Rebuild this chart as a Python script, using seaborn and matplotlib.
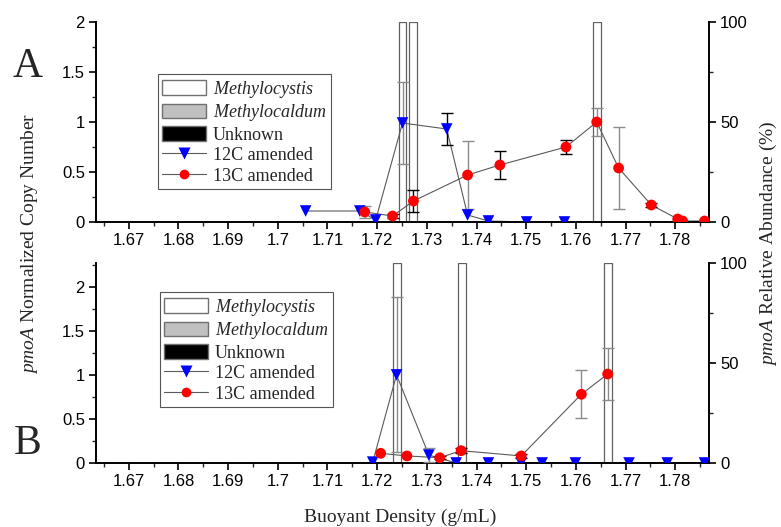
import numpy as np
import pandas as pd
import matplotlib
matplotlib.use("Agg")
import matplotlib.pyplot as plt
import seaborn as sns
from matplotlib.patches import Patch
from matplotlib.lines import Line2D
from matplotlib.ticker import MultipleLocator, FuncFormatter

# ---------------- data ----------------
# Panel A
a_bar_x = [1.7251, 1.7272, 1.7642]
a_bar_cystis = [100, 100, 100]
a12_x = [1.7056, 1.7165, 1.7197, 1.7251, 1.7340, 1.7382, 1.7424, 1.7501, 1.7577]
a12_y = [0.11, 0.11, 0.02, 0.99, 0.93, 0.07, 0.01, 0.0, 0.0]
a12_err = [0, 0, 0, 0.41, 0.16, 0, 0, 0, 0]
a13_x = [1.7175, 1.7231, 1.7273, 1.7382, 1.7447, 1.7580, 1.7642, 1.7686, 1.7752, 1.7805, 1.7815, 1.7859]
a13_y = [0.10, 0.06, 0.21, 0.47, 0.57, 0.75, 1.00, 0.54, 0.17, 0.03, 0.01, 0.01]
a13_err = [0.06, 0.02, 0.11, 0.34, 0.14, 0.07, 0.14, 0.41, 0.02, 0, 0, 0]

# Panel B
b_bar_x = [1.7239, 1.7370, 1.7664]
b_bar_cystis = [100, 100, 100]
b12_x = [1.7191, 1.7239, 1.7304, 1.7359, 1.7424, 1.7490, 1.7532, 1.7599, 1.7707, 1.7784, 1.7859]
b12_y = [0.01, 1.00, 0.09, 0.0, 0.0, 0.0, 0.0, 0.0, 0.0, 0.0, 0.0]
b12_err = [0, 0.88, 0.08, 0, 0, 0, 0, 0, 0, 0, 0]
b13_x = [1.7207, 1.7260, 1.7326, 1.7369, 1.7490, 1.7611, 1.7664]
b13_y = [0.11, 0.08, 0.06, 0.14, 0.08, 0.78, 1.01]
b13_err = [0, 0, 0.02, 0.03, 0.02, 0.27, 0.30]

legend_labels = [r"$\it{Methylocystis}$", r"$\it{Methylocaldum}$", "Unknown",
                 "12C amended", "13C amended"]
x_label = "Buoyant Density (g/mL)"
left_label = r"$\it{pmoA}$ Normalized Copy Number"
right_label = r"$\it{pmoA}$ Relative Abundance (%)"

# ---------------- style ----------------
sns.set_style("ticks")
plt.rcParams["font.family"] = ["Liberation Sans", "DejaVu Sans"]
plt.rcParams["mathtext.fontset"] = "custom"
plt.rcParams["mathtext.rm"] = "Liberation Serif"
plt.rcParams["mathtext.it"] = "Liberation Serif:italic"
SERIF = ["Liberation Serif", "DejaVu Serif"]

fig = plt.figure(figsize=(7.81, 5.27), dpi=100)
W, H = 781, 527
def axrect(x0, x1, y0, y1):
    return [x0 / W, 1 - y1 / H, (x1 - x0) / W, (y1 - y0) / H]

LINE_C = "#5a5a5a"
BAR_EC = "#606060"
GREY_E = "#8c8c8c"

def panel(rect, bar_x, bar_y, x12, y12, e12, x13, y13, e13, ytop,
          grey12, grey13, leg_anchor):
    ax = fig.add_axes(rect)
    ax2 = ax.twinx()
    ax.set_zorder(ax2.get_zorder() + 1)
    ax.patch.set_visible(False)

    ax2.bar(bar_x, bar_y, width=0.0016, facecolor="white", edgecolor=BAR_EC,
            linewidth=0.9, zorder=1)
    ax2.set_ylim(0, 100)

    d12 = pd.DataFrame({"x": x12, "y": y12})
    d13 = pd.DataFrame({"x": x13, "y": y13})
    for d in (d12, d13):
        sns.lineplot(data=d, x="x", y="y", ax=ax, color=LINE_C, linewidth=0.8,
                     sort=False, estimator=None, zorder=2)
    for i, (xx, yy, ee) in enumerate(zip(x12, y12, e12)):
        if ee > 0:
            ax.errorbar(xx, yy, yerr=ee, fmt="none", capsize=4, elinewidth=1,
                        capthick=1, ecolor=GREY_E if i in grey12 else "black", zorder=3)
    for i, (xx, yy, ee) in enumerate(zip(x13, y13, e13)):
        if ee > 0:
            ax.errorbar(xx, yy, yerr=ee, fmt="none", capsize=4, elinewidth=1,
                        capthick=1, ecolor=GREY_E if i in grey13 else "black", zorder=3)
    sns.scatterplot(data=d12, x="x", y="y", ax=ax, marker="v", color="#0000ff",
                    s=70, edgecolor="none", zorder=4)
    sns.scatterplot(data=d13, x="x", y="y", ax=ax, marker="o", color="#ff0000",
                    s=60, edgecolor="none", zorder=4)

    ax.set_xlim(1.6634, 1.7868)
    ax.set_ylim(0, ytop)
    ax.set_xlabel("")
    ax.set_ylabel("")
    ax.xaxis.set_major_locator(MultipleLocator(0.01))
    ax.xaxis.set_minor_locator(MultipleLocator(0.005))
    ax.yaxis.set_major_locator(MultipleLocator(0.5))
    ax.yaxis.set_minor_locator(MultipleLocator(0.25))
    ax2.yaxis.set_major_locator(MultipleLocator(50))
    ax2.yaxis.set_minor_locator(MultipleLocator(25))
    fmt = FuncFormatter(lambda v, p: ("%.2f" % v).rstrip("0").rstrip(".") if v != 0 else "0")
    ax.xaxis.set_major_formatter(fmt)
    ax.yaxis.set_major_formatter(fmt)
    for a in (ax, ax2):
        a.tick_params(which="major", direction="out", length=5, width=1.2,
                      labelsize=12, colors="black", pad=3)
        a.tick_params(which="minor", direction="out", length=3, width=1.0)
        for s in a.spines.values():
            s.set_linewidth(1.4)
            s.set_color("black")
        a.spines["top"].set_visible(False)
    ax.spines["right"].set_visible(False)
    ax2.spines["left"].set_visible(False)
    ax2.spines["bottom"].set_visible(False)
    ax2.set_ylabel("")

    handles = [
        Patch(facecolor="white", edgecolor="#707070", linewidth=1),
        Patch(facecolor="#c0c0c0", edgecolor="#707070", linewidth=1),
        Patch(facecolor="black", edgecolor="#707070", linewidth=1),
        Line2D([], [], color=LINE_C, lw=0.8, marker="v", markersize=8,
               markerfacecolor="#0000ff", markeredgecolor="none"),
        Line2D([], [], color=LINE_C, lw=0.8, marker="o", markersize=7,
               markerfacecolor="#ff0000", markeredgecolor="none"),
    ]
    leg = ax.legend(handles, legend_labels, loc="upper left", bbox_to_anchor=leg_anchor,
                    frameon=True, fancybox=False, framealpha=1, edgecolor="#555555",
                    prop={"family": SERIF, "size": 13}, handlelength=2.4,
                    handleheight=0.9, handletextpad=0.4, labelspacing=0.15,
                    borderpad=0.25, borderaxespad=0)
    leg.get_frame().set_linewidth(0.8)
    return ax, ax2

panel(axrect(96, 709, 22, 222), a_bar_x, a_bar_cystis, a12_x, a12_y, a12_err,
      a13_x, a13_y, a13_err, 2.0, grey12={3}, grey13={0, 3, 6, 7},
      leg_anchor=(0.101, 0.74))
panel(axrect(96, 709, 263, 463), b_bar_x, b_bar_cystis, b12_x, b12_y, b12_err,
      b13_x, b13_y, b13_err, 2.27, grey12={1, 2}, grey13={5, 6},
      leg_anchor=(0.104, 0.855))

fig.text(28 / W, 1 - 67 / H, "A", family=SERIF, fontsize=30, ha="center", va="center")
fig.text(28 / W, 1 - 444 / H, "B", family=SERIF, fontsize=30, ha="center", va="center")
fig.text(30 / W, 1 - 243 / H, left_label, family=SERIF, fontsize=14,
         rotation=90, ha="center", va="center")
fig.text(768 / W, 1 - 243 / H, right_label, family=SERIF, fontsize=14,
         rotation=90, ha="center", va="center")
fig.text(400 / W, 1 - 517 / H, x_label, family=SERIF, fontsize=14,
         ha="center", va="center")

fig.savefig("out.png", dpi=100)
